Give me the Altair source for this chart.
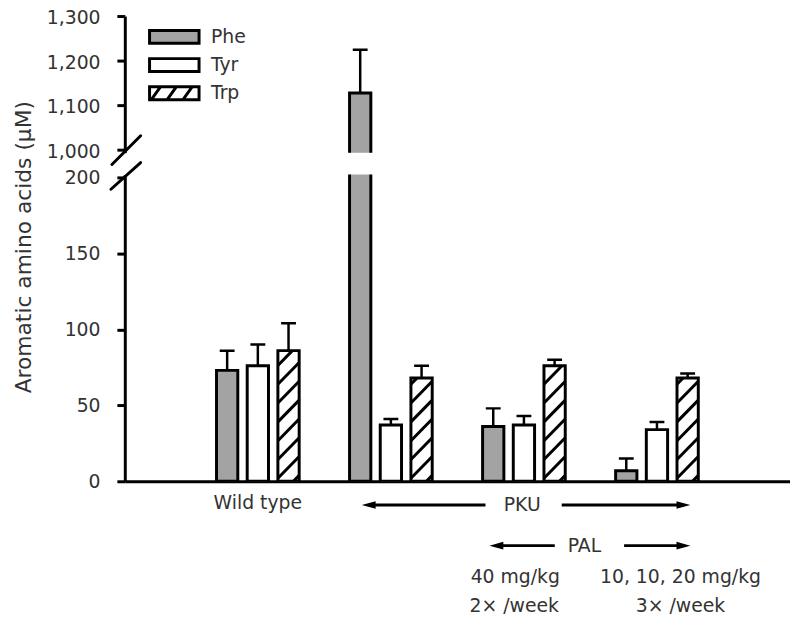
import altair as alt
import pandas as pd
import numpy as np

# ---------------- data ----------------
groups = ["Wild type", "PKU", "PKU + PAL 40 mg/kg 2×/week", "PKU + PAL 10, 10, 20 mg/kg 3×/week"]
series = ["Phe", "Tyr", "Trp"]
phe = [73, 1127, 36, 7]
phe_err = [13, 97, 12, 8]
tyr = [76, 37, 37, 34]
tyr_err = [14, 4, 6, 5]
trp = [86, 68, 76, 68]
trp_err = [18, 8, 4, 3]
colors = ["#a3a3a3", "#ffffff", "#ffffff"]

values = {"Phe": phe, "Tyr": tyr, "Trp": trp}
errors = {"Phe": phe_err, "Tyr": tyr_err, "Trp": trp_err}

# ---------------- layout ----------------
FONT = "DejaVu Sans"
TXT = "#333333"
X_DOMAIN = [-1, 4]
W = 672
H_TOP = 138
H_BOT = 310
Y_TOP = [993, 1300]
Y_BOT = [0, 202]
PX_X = W / (X_DOMAIN[1] - X_DOMAIN[0])
PX_Y = H_BOT / (Y_BOT[1] - Y_BOT[0])
OFFSET = 31 / PX_X      # distance between bars in a group
HALF = 10.75 / PX_X     # half bar width
CAP = 7.5 / PX_X        # half error-cap width

rows = []
for gi, g in enumerate(groups):
    for si, s in enumerate(series):
        c = gi + (si - 1) * OFFSET
        v = values[s][gi]
        e = errors[s][gi]
        rows.append(dict(group=g, series=s, x=c - HALF, x2=c + HALF, xc=c,
                         cl=c - CAP, cr=c + CAP, value=v, top=v + e))
df = pd.DataFrame(rows)

# hatch segments for Trp bars (decoration derived from bar geometry)
hatch = []
RISE, SP = 22.0, 19.0
for r in rows:
    if r["series"] != "Trp":
        continue
    w = (r["x2"] - r["x"]) * PX_X
    h = r["value"] * PX_Y
    slope = RISE / w
    for b in np.arange(-RISE + 6, h, SP):
        t0 = max(0.0, -b / slope)
        t1 = min(w, (h - b) / slope)
        if t1 - t0 > 0.8:
            hatch.append(dict(hx=r["x"] + t0 / PX_X, hx2=r["x"] + t1 / PX_X,
                              hy=(b + slope * t0) / PX_Y, hy2=(b + slope * t1) / PX_Y))
hdf = pd.DataFrame(hatch)

xs = alt.Scale(domain=X_DOMAIN, nice=False, zero=False)
yb = alt.Scale(domain=Y_BOT, nice=False, zero=False)
yt = alt.Scale(domain=Y_TOP, nice=False, zero=False)
fill_scale = alt.Scale(domain=series, range=colors)

RECT = "M-3.125,-0.81L3.125,-0.81L3.125,0.81L-3.125,0.81Z"
HATCH = RECT + "M-2.9,0.81L-1.75,-0.81M-0.9,0.81L0.25,-0.81M1.1,0.81L2.25,-0.81"
shape_scale = alt.Scale(domain=series, range=[RECT, RECT, HATCH])

# ---------------- lower panel ----------------
x_axis = alt.Axis(labels=False, ticks=False, title=None, grid=False, domainWidth=3)
y_axis_b = alt.Axis(values=[0, 50, 100, 150, 200], format="d",
                    title="Aromatic amino acids (μM)",
                    titleX=-112, titleY=73, titleAngle=270, titleBaseline="top",
                    titleAlign="center", titleFontSize=22, titleFontWeight="normal",
                    titleFont=FONT, titleColor=TXT)

base = alt.Chart(df)
b_fill = base.mark_rect(clip=True, strokeWidth=0).encode(
    x=alt.X("x:Q", scale=xs, axis=x_axis), x2="x2:Q",
    y=alt.Y("value:Q", scale=yb, axis=y_axis_b), y2=alt.datum(0),
    fill=alt.Fill("series:N", scale=fill_scale, legend=None),
)
b_hatch = alt.Chart(hdf).mark_rule(stroke="black", strokeWidth=3, clip=True).encode(
    x="hx:Q", x2="hx2:Q", y="hy:Q", y2="hy2:Q")
b_out = base.mark_rect(clip=True, filled=False, stroke="black", strokeWidth=3).encode(
    x="x:Q", x2="x2:Q", y="value:Q", y2=alt.datum(0))
b_stem = base.mark_rule(clip=True, stroke="black", strokeWidth=2.5).encode(
    x="xc:Q", y="value:Q", y2="top:Q")
b_cap = base.mark_rule(clip=True, stroke="black", strokeWidth=2.5).encode(
    x="cl:Q", x2="cr:Q", y="top:Q")

one = alt.Data(values=[{}])


def slash(x0, x1, y0, y1):
    return alt.Chart(one).mark_rule(stroke="black", strokeWidth=3, strokeCap="round").encode(
        x=alt.value(x0), x2=alt.value(x1), y=alt.value(y0), y2=alt.value(y1))


def label(text, xd, py):
    return alt.Chart(one).mark_text(text=text, font=FONT, fontSize=19, color=TXT,
                                    align="center", baseline="middle").encode(
        x=alt.datum(xd), y=alt.value(py))


LEFT = "M-1,0L1,-0.55L1,0.55Z"
RIGHT = "M1,0L-1,-0.55L-1,0.55Z"
AH = 7 / PX_X


def arrow(tail, head, py):
    d = -1 if head < tail else 1
    line = alt.Chart(one).mark_rule(stroke="black", strokeWidth=3).encode(
        x=alt.datum(tail), x2=alt.datum(head - d * AH), y=alt.value(py))
    tip = alt.Chart(one).mark_point(shape=LEFT if d < 0 else RIGHT, filled=True,
                                    fill="black", stroke="black", strokeWidth=0,
                                    size=196, opacity=1).encode(
        x=alt.datum(head - d * AH), y=alt.value(py))
    return line + tip


annotations = (
    label("Wild type", 0.0, 332)
    + label("PKU", 1.987, 334)
    + arrow(1.711, 0.781, 334) + arrow(2.284, 3.251, 334)
    + label("PAL", 2.455, 375)
    + arrow(2.232, 1.741, 375) + arrow(2.753, 3.251, 375)
    + label("40 mg/kg", 1.935, 407) + label("2× /week", 1.927, 436)
    + label("10, 10, 20 mg/kg", 3.177, 407) + label("3× /week", 3.177, 436)
)

lower = alt.layer(
    b_fill, b_hatch, b_out, b_stem, b_cap,
    slash(-13, 16, -10, -39), slash(-14, 16, 15, -12),
    annotations,
).properties(width=W, height=H_BOT)

# ---------------- upper panel ----------------
y_axis_t = alt.Axis(values=[1000, 1100, 1200, 1300], format=",.0f", title=None,
                    labelOffset=2)
top_df = alt.Chart(df).transform_filter(alt.datum.value > Y_TOP[0])
t_bar = top_df.mark_rect(clip=True, fill=colors[0], stroke="black", strokeWidth=3).encode(
    x=alt.X("x:Q", scale=xs, axis=None), x2="x2:Q",
    y=alt.Y("value:Q", scale=yt, axis=y_axis_t), y2=alt.datum(0))
t_stem = top_df.mark_rule(clip=True, stroke="black", strokeWidth=2.5).encode(
    x="xc:Q", y="value:Q", y2="top:Q")
t_cap = top_df.mark_rule(clip=True, stroke="black", strokeWidth=2.5).encode(
    x="cl:Q", x2="cr:Q", y="top:Q")

# series key drawn inside the upper panel
leg_df = pd.DataFrame({"series": series})
ROW0, ROWSTEP = 21, 28.5
legend_layers = []
for i, s in enumerate(series):
    src = alt.Chart(leg_df).transform_filter(alt.datum.series == s)
    legend_layers.append(src.mark_point(filled=True, size=256, stroke="black",
                                        strokeWidth=3, opacity=1).encode(
        x=alt.value(50), y=alt.value(ROW0 + i * ROWSTEP),
        fill=alt.Fill("series:N", scale=fill_scale, legend=None),
        shape=alt.Shape("series:N", scale=shape_scale, legend=None)))
    legend_layers.append(src.mark_text(font=FONT, fontSize=19, color=TXT, align="left",
                                       baseline="middle").encode(
        x=alt.value(87), y=alt.value(ROW0 + i * ROWSTEP), text="series:N"))

upper = alt.layer(t_bar, t_stem, t_cap, *legend_layers).properties(width=W, height=H_TOP)

chart = alt.vconcat(upper, lower, spacing=22, bounds="flush").resolve_scale(
    fill="independent", shape="independent").properties(
    padding={"left": 5, "top": -2, "right": 0, "bottom": 0}).configure_view(
    stroke=None).configure_axis(
    labelFont=FONT, labelFontSize=19, labelColor=TXT, domainColor="black",
    tickColor="black", domainWidth=3, tickWidth=3, tickSize=8, labelPadding=17,
    grid=False)

chart.save("out.html", embed_options={"renderer": "svg", "actions": False})
